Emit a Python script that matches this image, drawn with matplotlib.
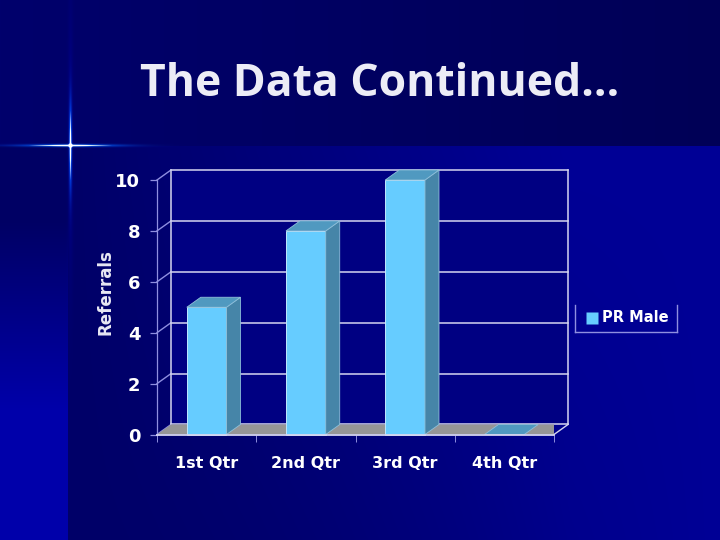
from __future__ import annotations

import matplotlib

matplotlib.use("Agg")
import matplotlib.pyplot as plt
import numpy as np
from matplotlib.patches import Polygon

CATEGORIES = ["1st Qtr", "2nd Qtr", "3rd Qtr", "4th Qtr"]
REFERRALS = [5, 8, 10, 0]
Y_TICKS = [0, 2, 4, 6, 8, 10]
SERIES_NAME = "PR Male"
TITLE = "The Data Continued…"
Y_LABEL = "Referrals"

FRONT = "#66CCFF"
TOP = "#5099C0"
SIDE = "#4685A8"
FLOOR = "#969696"
GRID = "#D5D5F0"
AXIS = "#8F8FE0"

WIDTH, HEIGHT = 720, 540
# oblique offset of the back wall, in data units
DEPTH_X = 0.141
DEPTH_Y = 0.393
BAR_WIDTH = 0.40


def background() -> np.ndarray:
    yy, xx = np.mgrid[0:HEIGHT, 0:WIDTH]
    down = np.clip((yy - 146) / 394, 0, 1)
    # main panel, brightest towards the right, dim at the lower left
    across = np.clip((xx - 70) / 500, 0, 1)
    blue = 104 + 46 * across * (1 - down * (1 - xx / 720))
    # left strip runs the other way, bright at the bottom
    strip = 100 + 70 * np.clip((yy - 220) / 190, 0, 1)
    blue = np.where(xx < 68, strip, blue)
    blue = np.where(yy < 146, 108 - 22 * xx / 720, blue)
    image = np.zeros((HEIGHT, WIDTH, 3))
    image[..., 2] = blue / 255

    # star flare, thin streaks fading out from the centre
    cx, cy = 70, 145
    dx = np.abs(xx - cx)
    dy = np.abs(yy - cy)
    horizontal = np.exp(-(dy / 1.4) ** 2) * np.exp(-(dx / 50.0) ** 2)
    vertical = np.exp(-(dx / 1.4) ** 2) * np.exp(-(dy / 42.0) ** 2)
    flare = np.clip(horizontal + vertical, 0, 1)
    image[..., 0] += np.clip(flare - 0.5, 0, 1) * 2.4
    image[..., 1] += np.clip(flare * 0.42 + np.clip(flare - 0.5, 0, 1) * 1.6, 0, 1)
    image[..., 2] += flare * 0.65
    # faint wider glow along the vertical streak
    image[..., 2] += np.exp(-(dx / 2.5) ** 2) * np.exp(-(dy / 130.0) ** 2) * 0.1
    return np.clip(image, 0, 1)


def draw_bar(ax, left: float, value: float) -> None:
    right = left + BAR_WIDTH
    if value > 0:
        ax.add_patch(Polygon([(left, 0), (right, 0), (right, value), (left, value)],
                             facecolor=FRONT, edgecolor="#BFE8FF", linewidth=0.7, zorder=4,
                             clip_on=False))
        ax.add_patch(Polygon([(right, 0), (right + DEPTH_X, DEPTH_Y),
                              (right + DEPTH_X, value + DEPTH_Y), (right, value)],
                             facecolor=SIDE, edgecolor="#8FC0DA", linewidth=0.6, zorder=4,
                             clip_on=False))
    ax.add_patch(Polygon([(left, value), (right, value),
                          (right + DEPTH_X, value + DEPTH_Y), (left + DEPTH_X, value + DEPTH_Y)],
                         facecolor=TOP, edgecolor="#8FC0DA", linewidth=0.6, zorder=4,
                         clip_on=False))


def draw_chart(ax) -> None:
    n = len(CATEGORIES)
    ymax = max(Y_TICKS)
    ax.set_xlim(0, n)
    ax.set_ylim(0, ymax)
    ax.patch.set_alpha(0)
    for spine in ax.spines.values():
        spine.set_visible(False)

    # back wall, a flat darker navy behind the grid
    ax.add_patch(Polygon([(DEPTH_X, DEPTH_Y), (n + DEPTH_X, DEPTH_Y),
                          (n + DEPTH_X, ymax + DEPTH_Y), (DEPTH_X, ymax + DEPTH_Y)],
                         facecolor="#000082", edgecolor="none", zorder=0, clip_on=False))
    # floor
    ax.add_patch(Polygon([(0, 0), (n, 0), (n + DEPTH_X, DEPTH_Y), (DEPTH_X, DEPTH_Y)],
                         facecolor=FLOOR, edgecolor="none", zorder=2))
    for tick in Y_TICKS:
        ax.plot([DEPTH_X, n + DEPTH_X], [tick + DEPTH_Y] * 2, color=GRID, lw=1.1, zorder=1,
                clip_on=False)
        ax.plot([0, DEPTH_X], [tick, tick + DEPTH_Y], color=AXIS, lw=1.0, zorder=1, clip_on=False)
    ax.plot([DEPTH_X, DEPTH_X], [DEPTH_Y, ymax + DEPTH_Y], color=GRID, lw=1.1, zorder=1, clip_on=False)
    ax.plot([n + DEPTH_X] * 2, [DEPTH_Y, ymax + DEPTH_Y], color=GRID, lw=1.1, zorder=1, clip_on=False)
    ax.plot([n, n + DEPTH_X], [0, DEPTH_Y], color=GRID, lw=1.0, zorder=3, clip_on=False)
    ax.plot([0, 0], [0, ymax], color=AXIS, lw=0.9, zorder=3, clip_on=False)
    ax.plot([0, n], [0, 0], color=GRID, lw=1.3, zorder=5, clip_on=False)

    for index, value in enumerate(REFERRALS):
        draw_bar(ax, index + 0.5 - BAR_WIDTH / 2, value)

    ax.set_yticks(Y_TICKS)
    ax.set_xticks(np.arange(n + 1))
    ax.set_xticklabels([])
    ax.tick_params(axis="y", colors=AXIS, length=5, width=0.9, pad=7, labelcolor="white", labelsize=13)
    ax.tick_params(axis="x", colors=AXIS, length=5, width=0.7)
    for label in ax.get_yticklabels():
        label.set_fontweight("bold")
    for index, name in enumerate(CATEGORIES):
        ax.text(index + 0.5, -1.12, name, color="white", fontsize=11.5, fontweight="bold",
                ha="center", va="center", transform=ax.transData)


def draw_legend(fig) -> None:
    box = fig.add_axes([575 / WIDTH, 1 - 332 / HEIGHT, 102 / WIDTH, 27 / HEIGHT])
    box.set_xticks([])
    box.set_yticks([])
    box.patch.set_alpha(0)
    box.spines["top"].set_visible(False)
    for name in ("left", "right", "bottom"):
        box.spines[name].set_color(AXIS)
        box.spines[name].set_linewidth(1.0)
    box.set_xlim(0, 102)
    box.set_ylim(0, 27)
    box.plot([17], [14], marker="s", ms=8, color=FRONT, mec="none")
    box.text(27, 14, SERIES_NAME, color="white", fontsize=10.5, fontweight="bold", va="center")


def main() -> None:
    plt.rcParams["font.family"] = ["DejaVu Sans"]
    fig = plt.figure(figsize=(WIDTH / 100, HEIGHT / 100), dpi=100)

    bg = fig.add_axes([0, 0, 1, 1])
    bg.imshow(background(), aspect="auto")
    bg.axis("off")

    fig.text(380 / WIDTH, 1 - 84 / HEIGHT, TITLE, color="#ECECF6", fontsize=32,
             fontweight="bold", family="Open Sans", ha="center", va="center")
    fig.text(105 / WIDTH, 1 - 292 / HEIGHT, Y_LABEL, color="#E8E8F4", fontsize=12,
             fontweight="bold", rotation=90, ha="center", va="center")

    ax = fig.add_axes([157 / WIDTH, 1 - 434.5 / HEIGHT, 397 / WIDTH, 254.5 / HEIGHT])
    draw_chart(ax)
    draw_legend(fig)

    fig.savefig("out.png", dpi=100)
    plt.close(fig)


if __name__ == "__main__":
    main()
